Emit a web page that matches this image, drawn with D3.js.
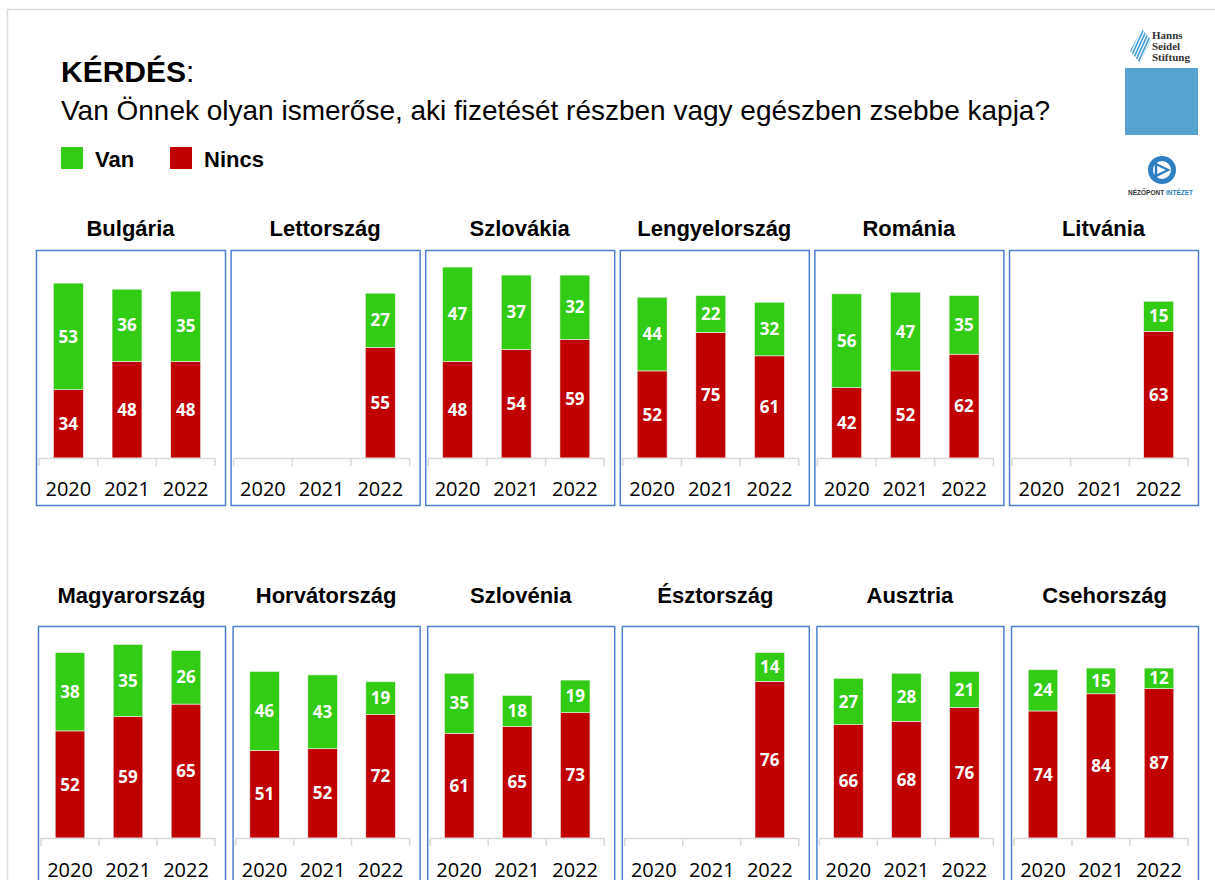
<!DOCTYPE html>
<meta charset="utf-8">
<style>
body { margin: 0; background: #fff; }
text { font-family: "Liberation Sans", Arial, sans-serif; }
.num { font-family: "Open Sans", sans-serif; font-weight: bold; fill: #fff; font-size: 17px; }
.yr { font-family: "Open Sans", sans-serif; font-size: 20px; fill: #000; }
.ctitle { font-weight: bold; font-size: 22px; fill: #000; }
</style>
<body><svg width="1215" height="880"></svg></body>
<script src="https://d3js.org/d3.v7.min.js"></script>
<script>

var countries = ["Bulgária", "Lettország", "Szlovákia", "Lengyelország", "Románia", "Litvánia",
                 "Magyarország", "Horvátország", "Szlovénia", "Észtország", "Ausztria", "Csehország"];
var years = ["2020", "2021", "2022"];
var van = [[53, 36, 35], [null, null, 27], [47, 37, 32], [44, 22, 32], [56, 47, 35], [null, null, 15],
           [38, 35, 26], [46, 43, 19], [35, 18, 19], [null, null, 14], [27, 28, 21], [24, 15, 12]];
var nincs = [[34, 48, 48], [null, null, 55], [48, 54, 59], [52, 75, 61], [42, 52, 62], [null, null, 63],
             [52, 59, 65], [51, 52, 72], [61, 65, 73], [null, null, 76], [66, 68, 76], [74, 84, 87]];
var seriesNames = ["Van", "Nincs"];
var colors = {Van: "#33cc14", Nincs: "#c00000"};

var svg = d3.select("svg");

// slide border
svg.append("rect")
    .attr("x", 7.5).attr("y", 9.5)
    .attr("width", 1230).attr("height", 900)
    .attr("fill", "none")
    .attr("stroke", "#dcdcdc")
    .attr("stroke-width", 1.5);

// heading
svg.append("text")
    .attr("x", 61).attr("y", 82)
    .style("font-size", "30px")
    .html('<tspan font-weight="bold">KÉRDÉS</tspan>:');

svg.append("text")
    .attr("x", 61).attr("y", 120)
    .style("font-size", "28px")
    .attr("textLength", 989)
    .attr("lengthAdjust", "spacingAndGlyphs")
    .text("Van Önnek olyan ismerőse, aki fizetését részben vagy egészben zsebbe kapja?");

// legend
var legX = [61, 170];
seriesNames.forEach(function(s, i) {
  svg.append("rect")
      .attr("x", legX[i]).attr("y", 147)
      .attr("width", 22).attr("height", 22)
      .attr("fill", colors[s]);
  svg.append("text")
      .attr("x", legX[i] + 34).attr("y", 167)
      .style("font-size", "22px")
      .style("font-weight", "bold")
      .text(s);
});

// logos
var defs = svg.append("defs");
defs.append("clipPath").attr("id", "hssClip")
  .append("path")
    .attr("d", "M1142,29 L1151,40 L1140,63 L1130,51 Z");
var hss = svg.append("g");
hss.append("g")
    .attr("clip-path", "url(#hssClip)")
  .selectAll("line")
  .data(d3.range(-6, 8))
  .enter().append("line")
    .attr("x1", function(d) { return 1126 + d * 3.2; })
    .attr("y1", 68)
    .attr("x2", function(d) { return 1146 + d * 3.2; })
    .attr("y2", 24)
    .attr("stroke", "#4aa3d6")
    .attr("stroke-width", 1.7);
["Hanns", "Seidel", "Stiftung"].forEach(function(t, i) {
  hss.append("text")
      .attr("x", 1152).attr("y", 39 + i * 11)
      .style("font-family", "'Liberation Serif', serif")
      .style("font-weight", "bold")
      .style("font-size", "11px")
      .attr("fill", "#333")
      .text(t);
});
svg.append("rect")
    .attr("x", 1125).attr("y", 68)
    .attr("width", 73).attr("height", 67)
    .attr("fill", "#56a3cf");

svg.append("circle")
    .attr("cx", 1162).attr("cy", 170).attr("r", 11.5)
    .attr("fill", "none").attr("stroke", "#2f80c3").attr("stroke-width", 5);
svg.append("path")
    .attr("d", "M1156,164 L1168,170 L1156,176 Z")
    .attr("fill", "none").attr("stroke", "#2f80c3").attr("stroke-width", 2.5);
svg.append("text")
    .attr("x", 1128).attr("y", 195)
    .style("font-size", "6.5px")
    .style("font-weight", "bold")
    .html('<tspan fill="#333">NÉZŐPONT </tspan><tspan fill="#2f80c3">INTÉZET</tspan>');

// panels
var rows = [
  {boxY: 250, boxH: 255, top: 257, base: 458, titleY: 236, yearY: 496, x0: 36, w: 189},
  {boxY: 626, boxH: 270, top: 632, base: 838, titleY: 603, yearY: 877, x0: 38, w: 187}
];

countries.forEach(function(name, ci) {
  var row = rows[Math.floor(ci / 6)];
  var col = ci % 6;
  var bx = row.x0 + col * 194.6;
  var g = svg.append("g");

  g.append("rect")
      .attr("x", bx + 0.5).attr("y", row.boxY + 0.5)
      .attr("width", row.w).attr("height", row.boxH)
      .attr("fill", "none")
      .attr("stroke", "#4f7fcf")
      .attr("stroke-width", 1.5);

  g.append("text")
      .attr("class", "ctitle")
      .attr("x", bx + row.w / 2).attr("y", row.titleY)
      .attr("text-anchor", "middle")
      .text(name);

  var rowsData = years.map(function(y, i) {
    return {year: y, Nincs: nincs[ci][i], Van: van[ci][i]};
  });
  var maxTotal = d3.max(rowsData, function(d) { return (d.Nincs || 0) + (d.Van || 0); });
  var yMax = Math.ceil(maxTotal * 1.05 / 20) * 20;

  var x = d3.scaleBand()
      .domain(years)
      .range([bx + 3, bx + row.w - 10])
      .paddingInner(0.49)
      .paddingOuter(0.245);
  var y = d3.scaleLinear()
      .domain([0, yMax])
      .range([row.base, row.top]);

  var stack = d3.stack().keys(["Nincs", "Van"])
      .value(function(d, k) { return d[k] || 0; });
  var layers = stack(rowsData);

  layers.forEach(function(layer) {
    var key = layer.key;
    var seg = g.selectAll(null)
      .data(layer.filter(function(d) { return d.data[key] != null; }))
      .enter();
    seg.append("rect")
        .attr("x", function(d) { return x(d.data.year); })
        .attr("y", function(d) { return y(d[1]); })
        .attr("width", x.bandwidth())
        .attr("height", function(d) { return y(d[0]) - y(d[1]); })
        .attr("fill", colors[key])
        .attr("stroke", "#f2f2f2")
        .attr("stroke-width", 0.6);
    seg.append("text")
        .attr("class", "num")
        .attr("x", function(d) { return x(d.data.year) + x.bandwidth() / 2; })
        .attr("y", function(d) { return (y(d[0]) + y(d[1])) / 2; })
        .attr("dy", "0.36em")
        .attr("text-anchor", "middle")
        .text(function(d) { return d.data[key]; });
  });

  // category axis
  var x0 = x.range()[0], x1 = x.range()[1];
  var ticks = [x0].concat(years.map(function(yv) { return x(yv) + x.bandwidth() + x.step() * x.paddingInner() / 2; }));
  ticks[3] = x1;
  g.append("line")
      .attr("x1", x0).attr("x2", x1)
      .attr("y1", row.base + 0.5).attr("y2", row.base + 0.5)
      .attr("stroke", "#d9d9d9").attr("stroke-width", 1.5);
  g.selectAll(null)
    .data(ticks)
    .enter().append("line")
      .attr("x1", function(d) { return d; }).attr("x2", function(d) { return d; })
      .attr("y1", row.base).attr("y2", row.base + 8)
      .attr("stroke", "#d9d9d9").attr("stroke-width", 1.5);
  g.selectAll(null)
    .data(years)
    .enter().append("text")
      .attr("class", "yr")
      .attr("x", function(d) { return x(d) + x.bandwidth() / 2; })
      .attr("y", row.yearY)
      .attr("text-anchor", "middle")
      .text(function(d) { return d; });
});

</script>
